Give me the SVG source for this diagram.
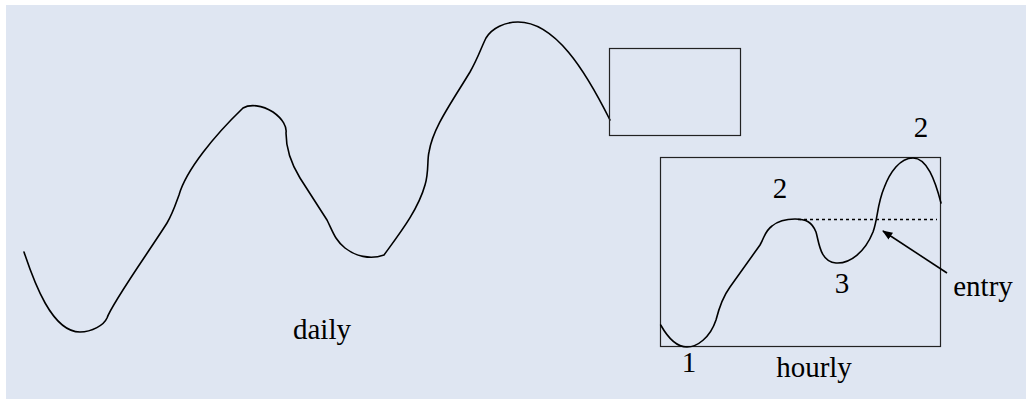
<svg xmlns="http://www.w3.org/2000/svg" width="1026" height="399" viewBox="0 0 1026 399">
<defs>
<style>
.curve{fill:none;stroke:#000;stroke-width:1.6;stroke-linejoin:round;stroke-linecap:round}
.box{fill:none;stroke:#222;stroke-width:1.2}
.lbl{font-family:"Liberation Serif","DejaVu Serif",serif;font-size:29px;fill:#000;text-anchor:middle}
</style>
<marker id="ah" viewBox="0 0 10 10" refX="9" refY="5" markerWidth="6.5" markerHeight="6.5" orient="auto" markerUnits="strokeWidth">
<path d="M0,1 L10,5 L0,9 z" fill="#000"/>
</marker>
</defs>
<rect x="6" y="5" width="1020" height="394" fill="#dfe6f2"/>
<g id="daily">
<path class="curve" d="M24,252 C34,282 52,332 80,332 C92,332 104,325 107,318 C112,303 150,250 167,223 C173,213 176,203 179,195 C186,170 215,135 243,108 C250,104 262,105 273,112 C283,119 287,127 286,133 C286,150 292,165 300,178 L327,220 C333,232 335,240 345,248 C355,256 370,260 384,255 C400,233 418,210 425,185 C429,172 427,160 429,152 C433,128 450,105 470,72 C478,58 481,48 486,38 C492,28 505,22 518,22 C555,22 585,70 610,120"/>
<text class="lbl" x="322" y="339">daily</text>
</g>
<g id="zoom-box">
<rect class="box" x="609.5" y="48.5" width="131" height="87"/>
</g>
<g id="hourly">
<rect class="box" x="660.5" y="157.5" width="280" height="189"/>
<path class="curve" d="M660.7,325 C668,338 676,347 687,347 C697,347 710,338 716,320 C719,308 722,298 730,287 L760,245 C765,236 765,231 772,226 C778,221 785,219 795,219 C806,219 812,222 816,232 C819,242 820,262 836,263 C850,264 865,252 873,232 C878,218 877,205 884,188 C890,172 900,158 913,158 C927,158 935,180 941,203"/>
<text class="lbl" x="814" y="377">hourly</text>
<text class="lbl" x="689" y="372">1</text>
<text class="lbl" x="780" y="198">2</text>
<text class="lbl" x="842" y="293">3</text>
<text class="lbl" x="921" y="137">2</text>
</g>
<g id="entry">
<text class="lbl" x="983" y="296">entry</text>
</g>
<g id="connectors">
<line x1="798" y1="219.5" x2="937" y2="219.5" stroke="#000" stroke-width="1.4" stroke-dasharray="3,3"/>
<line x1="947" y1="273" x2="883" y2="231" stroke="#000" stroke-width="1.6" marker-end="url(#ah)"/>
</g>
</svg>
